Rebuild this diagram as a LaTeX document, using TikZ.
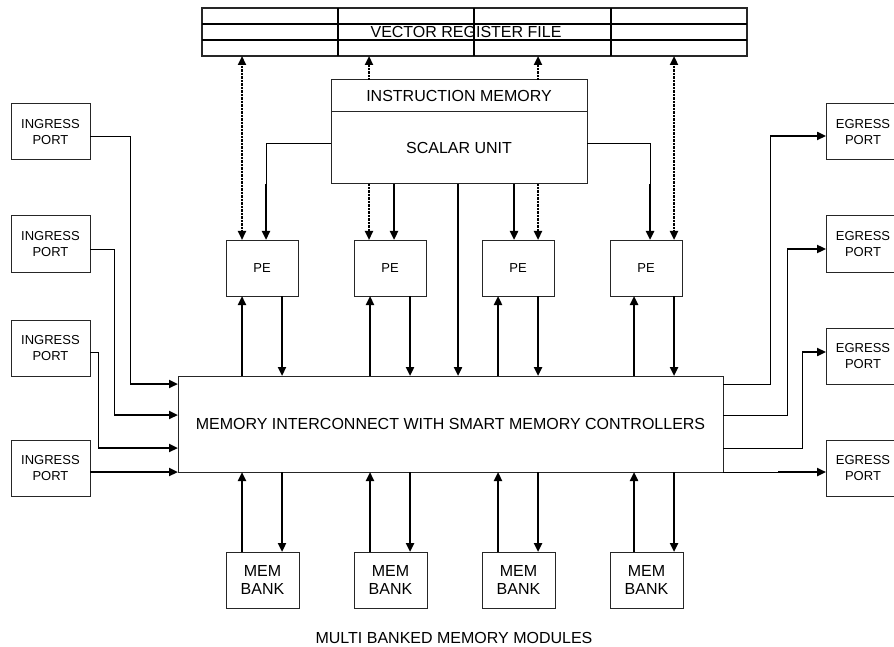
\documentclass[tikz,border=0pt]{standalone}
\usepackage{fontspec}
\setmainfont{Liberation Sans}
\usetikzlibrary{arrows.meta}
\tikzset{
  box/.style={draw=black!85, line width=1pt, inner sep=0pt, outer sep=0pt, align=center},
  lbl/.style={font=\fontsize{16}{19}\selectfont},
  smallbox/.style={box, minimum width=72pt, minimum height=56pt, font=\fontsize{13}{16}\selectfont},
  port/.style={box, minimum width=79pt, minimum height=56pt, font=\fontsize{13}{16}\selectfont},
  wire/.style={line width=1pt},
  bus/.style={line width=2.5pt},
  vrfbus/.style={line width=2.2pt, dash pattern=on 1pt off 0.4pt},
  grid/.style={line width=1.8pt}
}
\begin{document}
\begin{tikzpicture}[x=1pt,y=-1pt,>={Triangle[length=9pt,width=8pt]}]
\useasboundingbox (0,0) rectangle (894,647);
\node[box,grid,minimum width=545pt,minimum height=48pt] (vrf) at (474.5,32) {};
\draw[grid] (vrf.west |- 0,24) -- (vrf.east |- 0,24) (vrf.west |- 0,40) -- (vrf.east |- 0,40);
\foreach \x in {338,474,611} \draw[grid] (\x,0 |- vrf.north) -- (\x,0 |- vrf.south);
\node[lbl] (vrftitle) at (466,32) {VECTOR REGISTER FILE};
\node[box,lbl,minimum width=256pt,minimum height=32pt] (imem) at (459,96) {INSTRUCTION MEMORY};
\node[box,lbl,minimum width=256pt,minimum height=72pt] (su) at (459,148) {SCALAR UNIT};
\node[box,lbl,minimum width=545pt,minimum height=96pt] (ic) at (450.5,424) {MEMORY INTERCONNECT WITH SMART MEMORY CONTROLLERS};
\foreach \i/\x in {1/262,2/390,3/518,4/646} \node[smallbox] (pe\i) at (\x,268) {PE};
\foreach \i/\x in {1/262.5,2/390.5,3/518.5,4/646.5} \node[smallbox,minimum width=73pt,font=\fontsize{16}{18}\selectfont] (mem\i) at (\x,580) {MEM\\BANK};
\node[lbl] (caption) at (454,638) {MULTI BANKED MEMORY MODULES};
\foreach \i/\y in {1/132,2/244,3/348,4/468.5} \node[port] (in\i) at (50.5,\y) {INGRESS\\PORT};
\foreach \i/\y in {1/132,2/244,3/356,4/468.5} \node[port,minimum width=74pt] (eg\i) at (863,\y) {EGRESS\\PORT};
\foreach \i/\u/\d in {1/242/282,2/370/410,3/498/538,4/634/674} {
  \draw[bus,->] (\u,0 |- ic.north) -- (\u,0 |- pe\i.south);
  \draw[bus,->] (\d,0 |- pe\i.south) -- (\d,0 |- ic.north);
  \draw[bus,->] (\u,0 |- mem\i.north) -- (\u,0 |- ic.south);
  \draw[bus,->] (\d,0 |- ic.south) -- (\d,0 |- mem\i.north);
}
\draw[vrfbus,<->] (242,0 |- vrf.south) -- (242,0 |- pe1.north);
\draw[vrfbus,<->] (674,0 |- vrf.south) -- (674,0 |- pe4.north);
\draw[vrfbus,->] (369,0 |- imem.north) -- (369,0 |- vrf.south);
\draw[vrfbus,->] (369,0 |- su.south) -- (369,0 |- pe2.north);
\draw[vrfbus,->] (538,0 |- imem.north) -- (538,0 |- vrf.south);
\draw[vrfbus,->] (538,0 |- su.south) -- (538,0 |- pe3.north);
\draw[wire] (su.west |- 0,144) -| (266,0 |- su.south);
\draw[bus,->] (266,0 |- su.south) -- (266,0 |- pe1.north);
\draw[bus,->] (394,0 |- su.south) -- (394,0 |- pe2.north);
\draw[bus,->] (458,0 |- su.south) -- (458,0 |- ic.north);
\draw[bus,->] (514,0 |- su.south) -- (514,0 |- pe3.north);
\draw[wire] (su.east |- 0,144) -| (650,0 |- su.south);
\draw[bus,->] (650,0 |- su.south) -- (650,0 |- pe4.north);
\foreach \i/\ye/\xb/\yi in {1/137/130/384,2/249/114/415,3/352/98/448} {
  \draw[wire] (in\i.east |- 0,\ye) -| (\xb,\yi);
  \draw[bus,->] (\xb,\yi) -- (ic.west |- 0,\yi);
}
\draw[bus,->] (in4.east |- 0,472) -- (ic.west |- 0,472);
\foreach \i/\yo/\xb/\ye in {1/384/770/136,2/415/787/249,3/448/802/352} {
  \draw[wire] (ic.east |- 0,\yo) -| (\xb,\ye);
  \draw[bus,->] (\xb,\ye) -- (eg\i.west |- 0,\ye);
}
\draw[wire] (ic.east |- 0,472) -- (778,472);
\draw[bus,->] (778,472) -- (eg4.west |- 0,472);
\end{tikzpicture}
\end{document}
